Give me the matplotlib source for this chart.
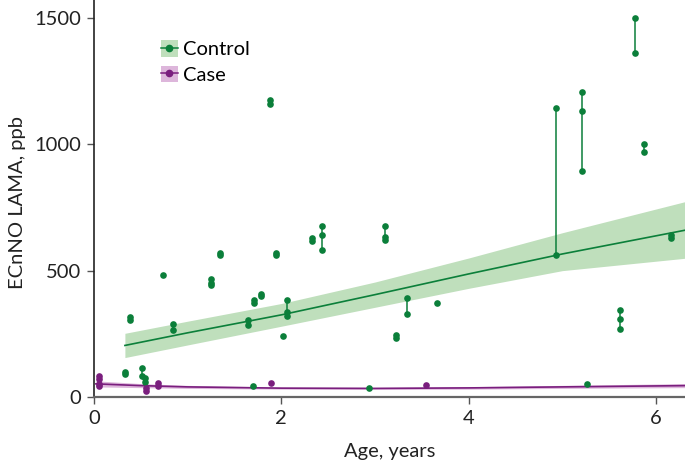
import numpy as np
import pandas as pd
import matplotlib
matplotlib.use("Agg")
import matplotlib.pyplot as plt
from matplotlib.patches import Patch
from matplotlib.lines import Line2D

plt.rcParams['font.family'] = ['Lato', 'DejaVu Sans']

# repeated measurements, grouped by age (one subject per age)
control_age = [0.33, 0.33, 0.38, 0.38, 0.51, 0.51, 0.54, 0.54, 0.74, 0.84, 0.84,
               1.25, 1.25, 1.25, 1.34, 1.34, 1.64, 1.64, 1.70, 1.71, 1.71, 1.78, 1.78,
               1.88, 1.88, 1.94, 1.94, 2.02, 2.06, 2.06, 2.06, 2.33, 2.33,
               2.43, 2.43, 2.43, 2.94, 3.11, 3.11, 3.11, 3.22, 3.22, 3.34, 3.34, 3.66,
               4.93, 4.93, 5.21, 5.21, 5.21, 5.26, 5.62, 5.62, 5.62, 5.78, 5.78,
               5.87, 5.87, 6.16, 6.16]
control_ppb = [100, 90, 318, 303, 115, 82, 76, 58, 484, 290, 265,
               466, 452, 442, 568, 563, 306, 286, 45, 383, 373, 408, 399,
               1177, 1158, 568, 560, 243, 385, 337, 322, 628, 618,
               678, 640, 583, 35, 675, 632, 620, 245, 234, 390, 328, 370,
               1145, 563, 1205, 1132, 893, 53, 343, 309, 270, 1500, 1362,
               1000, 970, 643, 630]

case_age = [0.05, 0.05, 0.05, 0.05, 0.55, 0.55, 0.68, 0.68, 1.89, 3.55]
case_ppb = [85, 72, 52, 44, 36, 22, 55, 45, 54, 49]

# fitted curves with confidence bands
control_fit_age = [0.33, 1.0, 2.0, 3.0, 4.0, 5.0, 6.31]
control_fit = [204, 254, 325, 405, 487, 566, 660]
control_fit_hi = [252, 300, 370, 455, 550, 650, 773]
control_fit_lo = [156, 206, 280, 355, 430, 500, 549]

case_fit_age = [0.02, 0.5, 1.0, 2.0, 3.0, 4.0, 5.0, 6.31]
case_fit = [52, 45, 40, 35, 34, 36, 40, 45]
case_fit_hi = [64, 53, 46, 39, 38, 41, 46, 53]
case_fit_lo = [40, 37, 34, 31, 30, 31, 34, 37]

green = '#0B7F3A'
green_band = '#BFDFBC'
purple = '#7A1E7E'
purple_band = '#DDB6DB'
fs = 14.5

fig = plt.figure(figsize=(6.85, 4.7), dpi=100)
ax = fig.add_axes([94 / 685, 1 - 397 / 470, 1 - 94 / 685, 397 / 470])

ax.fill_between(control_fit_age, control_fit_lo, control_fit_hi, color=green_band, lw=0, zorder=1)
ax.fill_between(case_fit_age, case_fit_lo, case_fit_hi, color=purple_band, lw=0, zorder=1)
ax.plot(control_fit_age, control_fit, color=green, lw=1.2, zorder=2)
ax.plot(case_fit_age, case_fit, color=purple, lw=1.2, zorder=2)

for age, ppb, col in [(control_age, control_ppb, green), (case_age, case_ppb, purple)]:
    df = pd.DataFrame({'age': age, 'ppb': ppb})
    for a, g in df.groupby('age'):
        if len(g) > 1:
            ax.plot([a, a], [g.ppb.min(), g.ppb.max()], color=col, lw=1.1, zorder=3)
    ax.plot(df.age, df.ppb, 'o', color=col, ms=4.8, mew=0, zorder=4)

ax.set_xlim(0, 6.31)
ax.set_ylim(0, 1571)
ax.set_xticks([0, 2, 4, 6])
ax.set_yticks([0, 500, 1000, 1500])
for s in ['top', 'right']:
    ax.spines[s].set_visible(False)
ax.spines['left'].set_color('#222222')
ax.spines['bottom'].set_color('#666666')
ax.spines['left'].set_linewidth(1.2)
ax.spines['bottom'].set_linewidth(1.6)
ax.tick_params(length=5, width=1, color='#555555', labelsize=fs, labelcolor='#222222', pad=4)

ax.set_xlabel('Age, years', fontsize=fs, color='#222222')
ax.set_ylabel('ECnNO LAMA, ppb', fontsize=fs, color='#222222')
ax.xaxis.set_label_coords(0.5, -46 / 397)
ax.yaxis.set_label_coords(-68 / 591, 0.49)

handles = [(Patch(facecolor=green_band, edgecolor='none'),
            Line2D([], [], color=green, marker='o', ms=4.5, lw=1.1)),
           (Patch(facecolor=purple_band, edgecolor='none'),
            Line2D([], [], color=purple, marker='o', ms=4.5, lw=1.1))]
ax.legend(handles, ['Control', 'Case'], loc='upper left', bbox_to_anchor=(0.113, 0.898),
          frameon=False, fontsize=fs, handlelength=0.85, handleheight=0.85,
          handletextpad=0.25, labelspacing=0.35, borderpad=0, borderaxespad=0)

fig.savefig('out.png', dpi=100)
